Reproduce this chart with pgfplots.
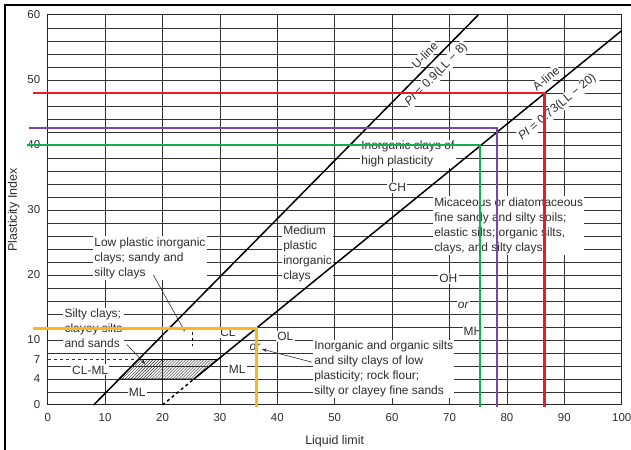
\documentclass[border=0pt]{standalone}
\usepackage{pgfplots}
\pgfplotsset{compat=1.18}
\usepackage{fontspec}
\setmainfont{Liberation Sans}
\usetikzlibrary{patterns,arrows.meta}
\definecolor{cred}{RGB}{232,28,36}
\definecolor{cpurple}{RGB}{124,70,165}
\definecolor{cgreen}{RGB}{24,172,80}
\definecolor{cyellow}{RGB}{250,184,30}
\definecolor{txt}{RGB}{45,45,45}
\tikzset{lbl/.style={font=\fontsize{12}{15}\selectfont, fill=white, inner sep=1.2bp, align=left, text=txt}}
\begin{document}
\begin{tikzpicture}
\path[use as bounding box] (-47.7bp,-45bp) rectangle (583.3bp,405bp);
\draw[line width=2.5bp] (-42.7bp,-50bp) -- (-42.7bp,400bp) -- (590bp,400bp);
\begin{axis}[
  at={(0,0)}, anchor=south west,
  scale only axis, width=574bp, height=390bp,
  xmin=0, xmax=100, ymin=0, ymax=60,
  clip=false,
  xtick={0,10,...,100},
  ytick={0,4,7,10,20,30,40,50,60},
  minor ytick={2,4,...,58},
  xmajorgrids, yminorgrids,
  major tick length=0pt, minor tick length=0pt,
  grid style={black!80, line width=0.8bp},
  minor grid style={black!80, line width=0.8bp},
  axis line style={black!85, line width=1bp},
  /pgf/number format/assume math mode=true,
  ticklabel style={font=\fontsize{11.5}{13}\selectfont, text=txt},
  yticklabel style={xshift=-4bp},
  xticklabel style={yshift=-5bp},
  xlabel={Liquid limit}, ylabel={Plasticity Index},
  label style={font=\fontsize{12.5}{14}\selectfont, text=txt},
  xlabel style={at={(axis description cs:0.5,-0.0923)}, anchor=center},
  ylabel style={at={(axis description cs:-0.0592,0.5)}, anchor=center},
]
% text labels
\node[lbl, anchor=west] at (axis cs:7.9,22.6) {Low plastic inorganic\\clays; sandy and\\silty clays};
\node[lbl, anchor=west] at (axis cs:2.7,11.8) {Silty clays;\\clayey silts\\and sands};
\node[lbl] at (axis cs:7.4,5.4) {CL-ML};
\node[lbl] at (axis cs:15.6,2.0) {ML};
\node[lbl] at (axis cs:33.0,5.5) {ML};
\node[lbl] at (axis cs:31.4,11.1) {CL};
\node[lbl, font=\fontsize{12}{15}\selectfont\itshape] at (axis cs:36.1,8.8) {or};
\node[lbl] at (axis cs:41.4,10.5) {OL};
\node[lbl, anchor=west] at (axis cs:40.8,23.2) {Medium\\plastic\\inorganic\\clays};
\node[lbl, anchor=west] at (axis cs:46.2,5.5) {Inorganic and organic silts\\and silty clays of low\\plasticity; rock flour;\\silty or clayey fine sands};
\node[lbl, anchor=west] at (axis cs:54.4,38.6) {Inorganic clays of\\high plasticity};
\node[lbl] at (axis cs:60.9,33.5) {CH};
\node[lbl, anchor=west] at (axis cs:67.1,27.6) {Micaceous or diatomaceous\\fine sandy and silty soils;\\elastic silts; organic silts,\\clays, and silty clays};
\node[lbl] at (axis cs:69.8,19.5) {OH};
\node[lbl, font=\fontsize{12}{15}\selectfont\itshape] at (axis cs:72.4,15.4) {or};
\node[lbl] at (axis cs:74.1,11.4) {MH};
\node[lbl, rotate=45.5] at (axis cs:65.7,53.8) {U-line};
\node[lbl, rotate=45.5] at (axis cs:67.7,50.8) {\textit{PI} = 0.9(LL − 8)};
\node[lbl, rotate=39.6] at (axis cs:86.8,50.2) {A-line};
\node[lbl, rotate=39.6] at (axis cs:88.8,45.8) {\textit{PI} = 0.73(LL − 20)};
% U-line and A-line
\addplot[black, line width=1.5bp] coordinates {(8,0) (75,60)};
\addplot[black, line width=1.5bp] coordinates {(25.48,4) (100,57.6)};
\addplot[black, line width=1.5bp, dashed] coordinates {(20,0) (25.48,4)};
\addplot[black!80, line width=0.8bp, dashed] coordinates {(0,7) (15.6,7)};
\addplot[black, line width=0.8bp, dashed] coordinates {(25.2,9.0) (25.2,11.2)};
% hatched CL-ML zone
\addplot[draw=black, line width=0.9bp, pattern=north east lines, pattern color=black!85] coordinates {(12.44,4) (25.48,4) (29.65,7) (15.8,7)} -- cycle;
% arrows
\draw[txt, line width=0.6bp, -{Stealth[length=5bp,width=3.5bp]}] (axis cs:18.4,20.0) -- (axis cs:23.9,11.3);
\draw[txt, line width=0.6bp, -{Stealth[length=5bp,width=3.5bp]}] (axis cs:13.8,9.3) -- (axis cs:17.0,6.3);
\draw[txt, line width=0.6bp, -{Stealth[length=5bp,width=3.5bp]}] (axis cs:46.0,6.6) -- (axis cs:37.3,8.6);
% coloured read-off lines
\addplot[cyellow, line width=2.6bp] coordinates {(-2.5,11.8) (36.4,11.8) (36.4,-0.3)};
\addplot[cgreen, line width=2.6bp] coordinates {(-3.6,40) (75.3,40) (75.3,-0.3)};
\addplot[cpurple, line width=2.6bp] coordinates {(-3.3,42.6) (78.3,42.6) (78.3,-0.3)};
\addplot[cred, line width=2.6bp] coordinates {(-2.5,48) (86.6,48) (86.6,-0.3)};
\end{axis}
\end{tikzpicture}
\end{document}
